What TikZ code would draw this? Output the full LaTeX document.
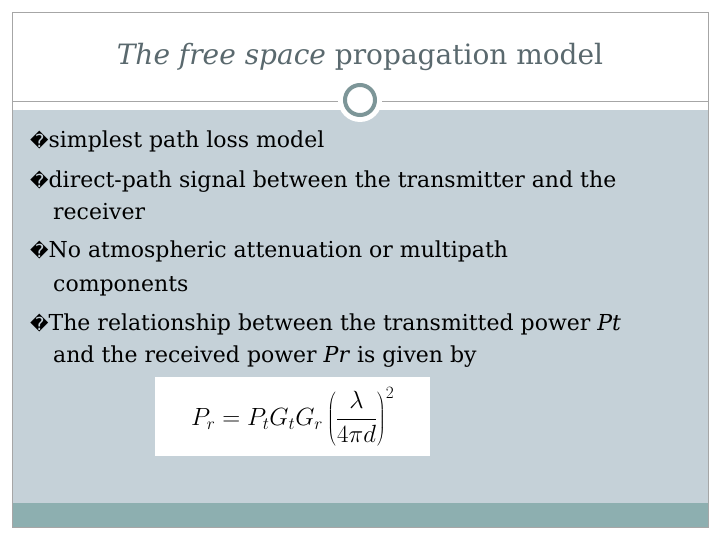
\documentclass[tikz,border=0pt]{standalone}
\usepackage{fontspec}
\setmainfont{DejaVu Serif}
\newfontfamily\symf{DejaVu Sans}
\begin{document}
\begin{tikzpicture}[x=1pt,y=-1pt,
  bul/.style={anchor=base west,font=\fontsize{22}{26}\selectfont,inner sep=0pt},
  cont/.style={anchor=base west,font=\fontsize{22}{26}\selectfont,inner sep=0pt}]
\useasboundingbox (0,0) rectangle (720,540);
\fill[white] (0,0) rectangle (720,540);
\fill[fill={rgb,255:red,197;green,209;blue,216}] (12,110) rectangle (708,503);
\fill[fill={rgb,255:red,141;green,175;blue,176}] (12,503) rectangle (708,527);
\draw[gray!70] (12,12) rectangle (708,527);
\draw[gray!70,line width=0.8pt] (12,101) -- (708,101);
\fill[white] (360,100) circle (22);
\draw[fill=white,draw={rgb,255:red,125;green,150;blue,152},line width=4pt] (360,100) circle (15);
\node[font=\fontsize{28}{32}\selectfont,text={rgb,255:red,90;green,105;blue,110}] (title) at (360,57) {\textit{The free space} propagation model};
\node[bul] (b1) at (30,148) {{\symf\fontsize{18}{20}\selectfont �}simplest path loss model};
\node[bul] (b2) at (30,188) {{\symf\fontsize{18}{20}\selectfont �}direct-path signal between the transmitter and the};
\node[cont] (c2) at (53,220) {receiver};
\node[bul] (b3) at (30,258) {{\symf\fontsize{18}{20}\selectfont �}No atmospheric attenuation or multipath};
\node[cont] (c3) at (53,291) {components};
\node[bul] (b4) at (30,330) {{\symf\fontsize{18}{20}\selectfont �}The relationship between the transmitted power \textit{Pt}};
\node[cont] (c4) at (53,362) {and the received power \textit{Pr} is given by};
\node[fill=white,minimum width=275,minimum height=79,anchor=north west,inner sep=0pt] (f) at (155,377) {};
\node[font=\fontsize{26}{30}\selectfont] at (f.center) {$\displaystyle P_r = P_t G_t G_r \left(\frac{\lambda}{4\pi d}\right)^{2}$};
\end{tikzpicture}
\end{document}
